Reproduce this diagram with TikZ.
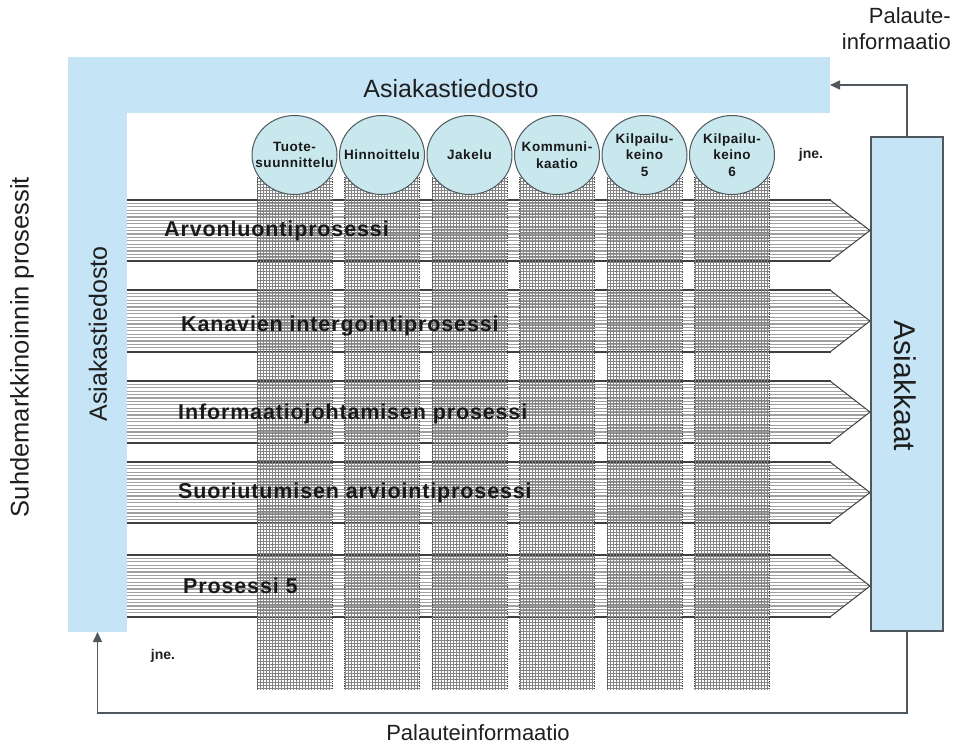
\documentclass[tikz,border=0pt]{standalone}
\usepackage{fontspec}
\setmainfont{Liberation Sans}
\newfontfamily\spacedfont{Liberation Sans}[LetterSpace=4]
\usetikzlibrary{shapes.geometric,arrows.meta}
\definecolor{barblue}{RGB}{197,229,247}
\definecolor{circfill}{RGB}{200,232,238}
\definecolor{edgegray}{RGB}{78,88,94}
\definecolor{stripegray}{RGB}{160,160,160}
\definecolor{gridgray}{RGB}{132,132,132}
\definecolor{arrowedge}{RGB}{64,64,64}
\newcommand\procfont{\spacedfont\bfseries\fontsize{21.5}{25}\selectfont}
\newcommand\circfont{\spacedfont\bfseries\fontsize{13.5}{16.5}\selectfont}
\begin{document}
\begin{tikzpicture}[x=1pt,y=-1pt,
  bar/.style={fill=barblue, draw=none, inner sep=0pt, outer sep=0pt},
  circ/.style={ellipse, draw=edgegray, line width=1pt, fill=circfill, minimum width=85pt, minimum height=79pt, inner sep=0pt},
  circtext/.style={align=center, font=\circfont, inner sep=0pt, text=black!90},
  proc/.style={font=\procfont, inner sep=0pt, text=black!90, anchor=base west},
  fb/.style={draw=edgegray, line width=1.5pt, -{Triangle[length=10pt,width=9pt]}},
  gridline/.style={draw=gridgray, line width=0.75pt},
  plain/.style={inner sep=0pt, text=black!88}]
\useasboundingbox (0,0) rectangle (955,744);
\fill[white] (0,0) rectangle (955,744);

% process arrows
\foreach \t/\b in {200/261, 290/352, 381/443, 462/523, 555/617} {
  \pgfmathsetmacro\m{(\t+\b)/2}
  \begin{scope}
    \clip (120,\t) -- (830,\t) -- (870,\m) -- (830,\b) -- (120,\b) -- cycle;
    \fill[white] (120,\t) rectangle (870,\b);
    \foreach \k in {1,...,17}
      \draw[stripegray, line width=1.1pt] (120,\t+\k*3.4) -- (870,\t+\k*3.4);
  \end{scope}
  \draw[arrowedge, line width=1pt, line join=miter] (830,\t) -- (870,\m) -- (830,\b);
  \draw[arrowedge, line width=2pt] (120,\t) -- (831,\t) (120,\b) -- (831,\b);
}

% marketing-mix columns
\foreach \cx in {294.5, 382, 469.5, 557, 644.5, 732} {
  \begin{scope}
    \clip (\cx-37.5,177) rectangle (\cx+37.5,690);
    \foreach \u in {0.5,3.5,...,75}
      \draw[gridline] (\cx-37.5+\u,177) -- (\cx-37.5+\u,690);
    \foreach \v in {1,4,...,513}
      \draw[gridline] (\cx-37.5,177+\v) -- (\cx+37.5,177+\v);
  \end{scope}
  \draw[black!70, line width=0.8pt, densely dotted] (\cx-37.5,177) -- (\cx-37.5,690) (\cx+37.5,177) -- (\cx+37.5,690);
}

% customer database bars
\node[bar, minimum width=762pt, minimum height=56pt] (topbar) at (449,85) {};
\node[bar, minimum width=59pt, minimum height=575pt] (leftbar) at (97.5,344.5) {};

% circles
\node[circ] (c1) at (294.5,155) {};
\node[circ] (c2) at (382,155) {};
\node[circ] (c3) at (469.5,155) {};
\node[circ] (c4) at (557,155) {};
\node[circ] (c5) at (644.5,155) {};
\node[circ] (c6) at (732,155) {};
\node[circtext] (t1) at (c1) {Tuote-\\suunnittelu};
\node[circtext] (t2) at (c2) {Hinnoittelu};
\node[circtext] (t3) at (c3) {Jakelu};
\node[circtext] (t4) at (c4) {Kommuni-\\kaatio};
\node[circtext] (t5) at (c5) {Kilpailu-\\keino\\5};
\node[circtext] (t6) at (c6) {Kilpailu-\\keino\\6};

% customers box
\node[draw=edgegray, line width=1.5pt, fill=barblue, minimum width=72pt, minimum height=494pt, inner sep=0pt] (asiakkaat) at (907,384) {};
\node[plain, rotate=-90, font=\fontsize{30}{34}\selectfont] (asiakkaattxt) at (905,386) {Asiakkaat};

% feedback connectors
\draw[fb] (asiakkaat.north) |- (topbar.east);
\draw[fb] (asiakkaat.south) -- ++(0,81) -| (leftbar.south);

% texts
\node[plain, font=\fontsize{25}{29}\selectfont] (dbtop) at (451,89) {Asiakastiedosto};
\node[plain, rotate=90, font=\fontsize{25}{29}\selectfont] (dbleft) at (98,334) {Asiakastiedosto};
\node[plain, rotate=90, font=\fontsize{25.5}{29}\selectfont] (srm) at (22,347) {Suhdemarkkinoinnin prosessit};
\node[plain, font=\fontsize{22}{26}\selectfont] (fbbottom) at (478,733) {Palauteinformaatio};
\node[plain, align=right, anchor=north east, font=\fontsize{22}{26}\selectfont] (fbtop) at (951,7) {Palaute-\\informaatio};
\node[plain, font=\bfseries\fontsize{14}{16}\selectfont] (jne1) at (811,155) {jne.};
\node[plain, font=\bfseries\fontsize{14}{16}\selectfont] (jne2) at (163,656) {jne.};

\node[proc] (p1) at (164,236) {Arvonluontiprosessi};
\node[proc] (p2) at (181,331) {Kanavien intergointiprosessi};
\node[proc] (p3) at (178,419) {Informaatiojohtamisen prosessi};
\node[proc] (p4) at (178,498) {Suoriutumisen arviointiprosessi};
\node[proc] (p5) at (183,593) {Prosessi 5};
\end{tikzpicture}
\end{document}
